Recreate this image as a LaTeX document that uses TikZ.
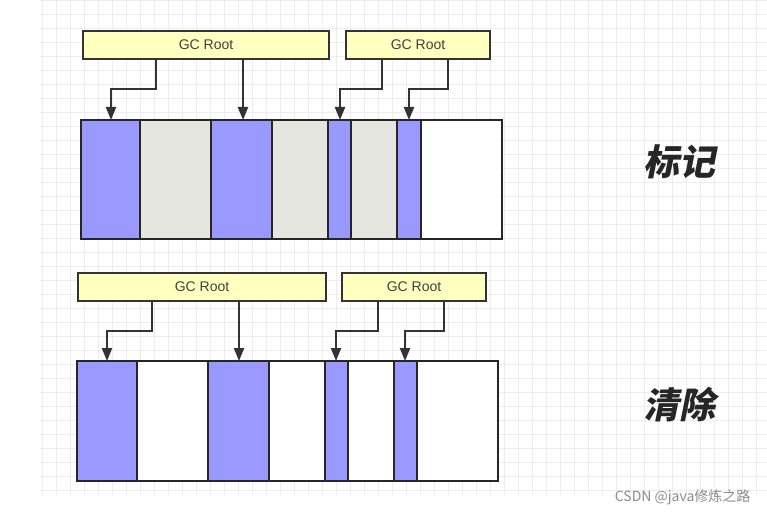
\documentclass[tikz,border=0pt]{standalone}
\usepackage{fontspec}
\setmainfont{Liberation Sans}
\newfontfamily\cjk{Noto Sans CJK SC}
\usetikzlibrary{arrows.meta}
\definecolor{mblue}{HTML}{9999FF}
\definecolor{mgrey}{HTML}{E6E6E0}
\definecolor{ryel}{HTML}{FFFFC0}
\begin{document}
\begin{tikzpicture}[x=1pt,y=-1pt,
  root/.style={draw=black!80,line width=2pt,fill=ryel,inner sep=0pt,anchor=north west,font=\fontsize{14}{14}\selectfont,text=black!75},
  seg/.style={draw=black!85,line width=2.2pt},
  arr/.style={draw=black!80,line width=2.2pt,-{Triangle[length=13pt,width=10pt]}},
  big/.style={font=\cjk\bfseries\fontsize{36}{36}\selectfont,text=black!85,xslant=0.2}]
\useasboundingbox (0,0) rectangle (767,518);
\fill[white] (0,0) rectangle (767,518);
\foreach \x in {42,56,...,767} \draw[black!7,line width=0.6pt] (\x,0) -- (\x,495);
\foreach \y in {0,14,...,495} \draw[black!7,line width=0.6pt] (40,\y) -- (767,\y);
% top
\node[root,minimum width=246pt,minimum height=28pt] (r1) at (82,30) {GC Root};
\node[root,minimum width=144pt,minimum height=28pt] (r2) at (345,30) {GC Root};
\foreach \a/\b/\c [count=\i] in {81/140/mblue,140/211/mgrey,211/272/mblue,272/328/mgrey,328/351/mblue,351/397/mgrey,397/421/mblue,421/502/white}
  \draw[seg,fill=\c] (\a,120) rectangle (\b,239) coordinate (t\i);
\coordinate (ta1) at (111,120); \coordinate (ta2) at (243,120);
\coordinate (ta3) at (340,120); \coordinate (ta4) at (409,120);
\draw[arr] (r1.south -| 156,0) |- (111,89) -- (ta1);
\draw[arr] (r1.south -| 243,0) -- (ta2);
\draw[arr] (r2.south -| 382,0) |- (340,89) -- (ta3);
\draw[arr] (r2.south -| 448,0) |- (409,89) -- (ta4);
\node[big] (m1) at (682,162) {标记};
% bottom
\node[root,minimum width=248pt,minimum height=28pt] (s1) at (77,272) {GC Root};
\node[root,minimum width=144pt,minimum height=28pt] (s2) at (341,272) {GC Root};
\foreach \a/\b/\c [count=\i] in {77/137/mblue,137/208/white,208/269/mblue,269/325/white,325/348/mblue,348/394/white,394/417/mblue,417/498/white}
  \draw[seg,fill=\c] (\a,361) rectangle (\b,481) coordinate (b\i);
\coordinate (ba1) at (107,361); \coordinate (ba2) at (239,361);
\coordinate (ba3) at (336,361); \coordinate (ba4) at (405,361);
\draw[arr] (s1.south -| 152,0) |- (107,331) -- (ba1);
\draw[arr] (s1.south -| 239,0) -- (ba2);
\draw[arr] (s2.south -| 378,0) |- (336,331) -- (ba3);
\draw[arr] (s2.south -| 444,0) |- (405,331) -- (ba4);
\node[big] (m2) at (682,405) {清除};
\node[font=\cjk\fontsize{14}{14}\selectfont,text=black!45,anchor=east] (wm) at (754,497) {CSDN @java修炼之路};
\end{tikzpicture}
\end{document}
